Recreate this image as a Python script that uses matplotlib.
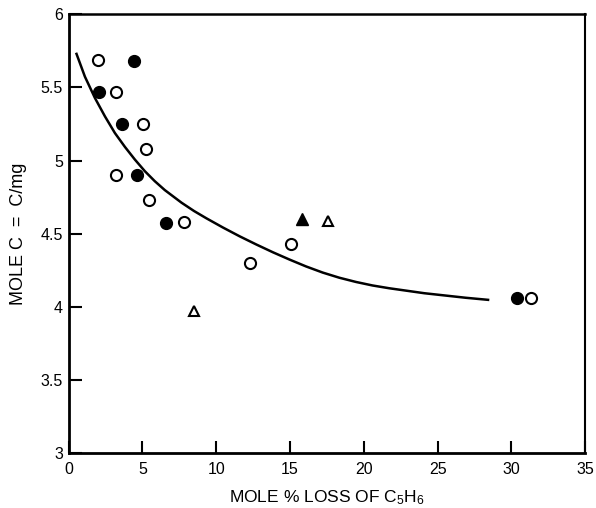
import matplotlib
matplotlib.use("Agg")
import matplotlib.pyplot as plt

plt.rcParams['font.family'] = ['Liberation Sans', 'DejaVu Sans']
plt.rcParams['mathtext.fontset'] = 'custom'
plt.rcParams['mathtext.rm'] = 'Liberation Sans'
plt.rcParams['mathtext.it'] = 'Liberation Sans'

# Data
open_circ_x = [2.01, 3.21, 5.05, 5.28, 3.21, 5.42, 7.80, 12.26, 15.08, 31.3]
open_circ_y = [5.69, 5.47, 5.25, 5.08, 4.90, 4.73, 4.58, 4.30, 4.43, 4.06]
fill_circ_x = [4.43, 2.08, 3.59, 4.65, 6.59, 30.35]
fill_circ_y = [5.68, 5.47, 5.25, 4.90, 4.57, 4.06]
open_tri_x = [8.5, 17.55]
open_tri_y = [3.97, 4.59]
fill_tri_x = [15.8]
fill_tri_y = [4.60]
curve_x = [0.51, 1.11, 1.79, 2.47, 3.14, 3.82, 4.49, 5.17, 5.84, 6.52, 7.65, 8.5,
           9.34, 10.46, 11.59, 12.72, 13.84, 14.97, 16.09, 17.22, 18.34, 19.47,
           20.59, 21.72, 24.1, 26.9, 28.5]
curve_y = [5.737, 5.573, 5.427, 5.301, 5.188, 5.093, 5.007, 4.927, 4.859, 4.798,
           4.712, 4.655, 4.605, 4.542, 4.482, 4.426, 4.373, 4.323, 4.276, 4.234,
           4.199, 4.170, 4.146, 4.127, 4.093, 4.062, 4.047]

x_ticks = [0, 5, 10, 15, 20, 25, 30, 35]
y_ticks = [3, 3.5, 4, 4.5, 5, 5.5, 6]
y_tick_labels = ['3', '3.5', '4', '4.5', '5', '5.5', '6']

fig = plt.figure(figsize=(5.96, 5.08), dpi=100)
ax = fig.add_axes([0.115, 0.108, 0.867, 0.864])

ax.plot(curve_x, curve_y, color='black', lw=1.8, zorder=2,
        solid_joinstyle='round', solid_capstyle='butt')
ax.plot(open_circ_x, open_circ_y, 'o', ms=8, mfc='white', mec='black', mew=1.5, zorder=3)
ax.plot(fill_circ_x, fill_circ_y, 'o', ms=8.5, mfc='black', mec='black', zorder=3)
ax.plot(open_tri_x, open_tri_y, '^', ms=7.5, mfc='white', mec='black', mew=1.5, zorder=3)
ax.plot(fill_tri_x, fill_tri_y, '^', ms=8, mfc='black', mec='black', zorder=3)

ax.set_xlim(0, 35)
ax.set_ylim(3, 6)
ax.set_xticks(x_ticks)
ax.set_yticks(y_ticks)
ax.set_yticklabels(y_tick_labels)
ax.tick_params(direction='in', length=9, width=1.5, labelsize=11.5, colors='black',
               top=False, right=False)
ax.tick_params(axis='x', pad=6.5)
ax.tick_params(axis='y', pad=4)
for s in ax.spines.values():
    s.set_linewidth(1.5)
ax.spines['left'].set_linewidth(2)
ax.spines['bottom'].set_linewidth(2)
ax.spines['top'].set_linewidth(1.8)

ax.set_xlabel('MOLE % LOSS OF C$_5$H$_6$', fontsize=12.5, labelpad=8)
ax.set_ylabel('MOLE C  =  C/mg', fontsize=13, labelpad=10)

fig.savefig('out.png', dpi=100)
